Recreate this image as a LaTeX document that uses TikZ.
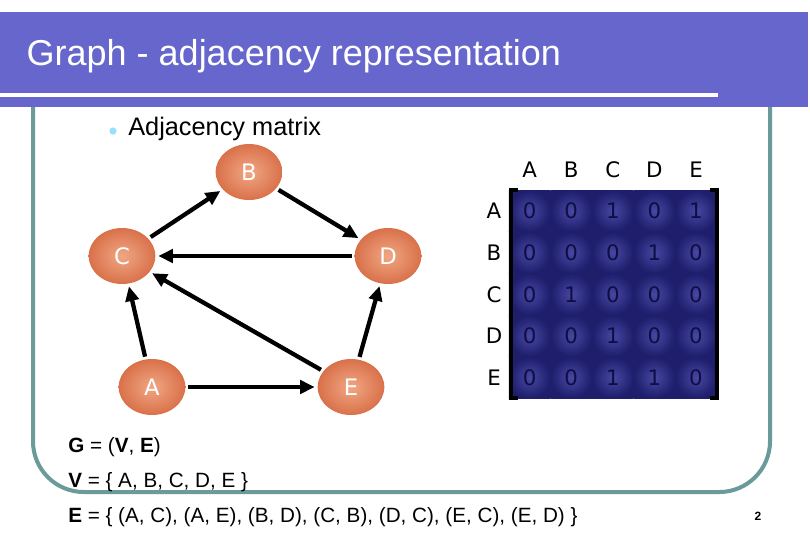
\documentclass[tikz,border=0pt]{standalone}
\usepackage{fontspec}
\setmainfont{Liberation Sans}
\newfontfamily\dvs{DejaVu Sans}
\usetikzlibrary{shapes.geometric,arrows.meta}
\definecolor{banner}{HTML}{6666CC}
\definecolor{frame}{HTML}{6A9A9A}
\definecolor{cellc}{HTML}{23237F}
\definecolor{digit}{HTML}{0E0E45}
\definecolor{nodeo}{HTML}{D9714A}
\definecolor{nodel}{HTML}{F0A784}
\tikzset{
  vert/.style={ellipse,minimum width=50,minimum height=42,inner sep=0pt,
    inner color=nodel,outer color=nodeo,text=white,font=\dvs\fontsize{17}{17}\selectfont},
  edge/.style={line width=3.2pt,-{Triangle[length=11pt,width=10pt]},shorten >=2pt,shorten <=2pt},
  lab/.style={font=\dvs\fontsize{16}{16}\selectfont,text=black},
  cell/.style={draw=none,minimum size=31.2pt,inner sep=0pt,inner color=cellc!80!white!90!blue,outer color=cellc!85!black,text=digit,font=\dvs\fontsize{16}{16}\selectfont},
  txt/.style={anchor=west,font=\fontsize{15.5}{15.5}\selectfont,inner sep=0pt}
}
\begin{document}
\begin{tikzpicture}[x=0.75pt,y=-0.75pt]
\useasboundingbox (0,0) rectangle (810,540);
\fill[white] (0,0) rectangle (810,540);
% frame
\draw[frame,line width=3pt,rounded corners=38] (33,107) -- (33,492) -- (770,492) -- (770,107);
% banner
\fill[banner] (0,12) rectangle (808,107);
\fill[white] (0,93) rectangle (718,97);
\node[anchor=west,text=white,font=\fontsize{27}{27}\selectfont] (title) at (22,56) {Graph - adjacency representation};
% bullet
\fill[blue!30!cyan!40] (113,131) circle (3.6);
\node[anchor=west,font=\fontsize{19}{19}\selectfont,inner sep=0pt] (sub) at (128,129) {Adjacency matrix};
% graph
\node[vert] (B) at (249,172) {B};
\node[vert] (C) at (122,256) {C};
\node[vert] (D) at (388,256) {D};
\node[vert] (A) at (152,387) {A};
\node[vert] (E) at (351,387) {E};
\draw[edge] (C) -- (B);
\draw[edge] (B) -- (D);
\draw[edge] (D) -- (C);
\draw[edge] (A) -- (C);
\draw[edge] (E) -- (C);
\draw[edge] (A) -- (E);
\draw[edge] (E) -- (D);
% matrix
\foreach \n [count=\i] in {A,B,C,D,E}{
  \node[lab] (col\n) at (488+41.6*\i,170) {\n};
  \node[lab] (row\n) at (494,169.5+41.6*\i) {\n};
}
\foreach \r [count=\i] in {{0,0,1,0,1},{0,0,0,1,0},{0,1,0,0,0},{0,0,1,0,0},{0,0,1,1,0}}{
  \foreach \v [count=\j] in \r {
    \node[cell] (m\i\j) at (488+41.6*\j,169.5+41.6*\i) {\v};
  }
}
\draw[line width=2.5pt] (518,190) -- (511,190) -- (511,398) -- (518,398);
\draw[line width=2.5pt] (710,190) -- (717,190) -- (717,398) -- (710,398);
% text
\node[txt] (g) at (68,447) {\textbf{G} = (\textbf{V}, \textbf{E})};
\node[txt] (v) at (68,482) {\textbf{V} = \{ A, B, C, D, E \}};
\node[txt] (e) at (68,517) {\textbf{E} = \{ (A, C), (A, E), (B, D), (C, B), (D, C), (E, C), (E, D) \}};
\node[font=\bfseries\fontsize{9}{9}\selectfont] (pg) at (758,516) {2};
\end{tikzpicture}
\end{document}
